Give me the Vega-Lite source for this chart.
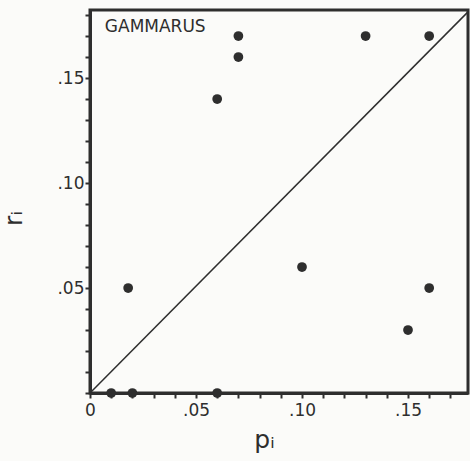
{
  "$schema": "https://vega.github.io/schema/vega-lite/v6.json",
  "autosize": {"type": "none"},
  "padding": {"left": 90, "top": 10, "right": 2, "bottom": 68},
  "width": 378,
  "height": 383,
  "background": "#fbfbf9",
  "config": {
    "view": {"stroke": "#2e2e2e", "strokeWidth": 3},
    "axis": {
      "grid": false,
      "domainColor": "#2e2e2e",
      "domainWidth": 3,
      "tickColor": "#2e2e2e",
      "tickWidth": 2,
      "tickSize": 5,
      "labelOverlap": false,
      "labelFlush": false,
      "labelFont": "DejaVu Sans",
      "labelFontSize": 17,
      "labelColor": "#2e2e2e",
      "titleFont": "DejaVu Sans",
      "titleFontSize": 25,
      "titleFontWeight": "normal",
      "titleColor": "#2e2e2e"
    }
  },
  "datasets": {
    "points": [
      {"p": 0.01, "r": 0.0},
      {"p": 0.02, "r": 0.0},
      {"p": 0.06, "r": 0.0},
      {"p": 0.018, "r": 0.05},
      {"p": 0.06, "r": 0.14},
      {"p": 0.07, "r": 0.16},
      {"p": 0.07, "r": 0.17},
      {"p": 0.13, "r": 0.17},
      {"p": 0.16, "r": 0.17},
      {"p": 0.10, "r": 0.06},
      {"p": 0.16, "r": 0.05},
      {"p": 0.15, "r": 0.03}
    ],
    "diag": [
      {"p": 0, "r": 0, "p2": 0.1783, "r2": 0.1815}
    ],
    "label": [
      {"p": 0.007, "r": 0.1745, "text": "GAMMARUS"}
    ]
  },
  "encoding": {
    "x": {
      "field": "p", "type": "quantitative",
      "scale": {"domain": [0, 0.1783], "nice": false, "zero": false},
      "axis": {
        "values": [0, 0.01, 0.02, 0.03, 0.04, 0.05, 0.06, 0.07, 0.08, 0.09, 0.1, 0.11, 0.12, 0.13, 0.14, 0.15, 0.16, 0.17],
        "labelExpr": "datum.value == 0 ? '0' : (round(datum.value*100) % 5 == 0 ? replace(format(datum.value, '.2f'), '0.', '.') : '')",
        "labelPadding": 4,
        "title": "pᵢ",
        "titleX": 174,
        "titleY": 34
      }
    },
    "y": {
      "field": "r", "type": "quantitative",
      "scale": {"domain": [0, 0.1824], "nice": false, "zero": false},
      "axis": {
        "values": [0, 0.01, 0.02, 0.03, 0.04, 0.05, 0.06, 0.07, 0.08, 0.09, 0.1, 0.11, 0.12, 0.13, 0.14, 0.15, 0.16, 0.17, 0.18],
        "labelExpr": "datum.value > 0 && round(datum.value*100) % 5 == 0 ? replace(format(datum.value, '.2f'), '0.', '.') : ''",
        "labelPadding": 1,
        "title": "rᵢ",
        "titleX": -64,
        "titleY": 208
      }
    }
  },
  "layer": [
    {
      "data": {"name": "diag"},
      "mark": {"type": "rule", "color": "#2e2e2e", "strokeWidth": 1.5},
      "encoding": {
        "x2": {"field": "p2"},
        "y2": {"field": "r2"}
      }
    },
    {
      "data": {"name": "points"},
      "mark": {"type": "circle", "size": 95, "color": "#2e2e2e", "opacity": 1}
    },
    {
      "data": {"name": "label"},
      "mark": {"type": "text", "align": "left", "baseline": "middle", "font": "DejaVu Sans", "fontSize": 17, "color": "#2e2e2e"},
      "encoding": {
        "text": {"field": "text"}
      }
    }
  ]
}
